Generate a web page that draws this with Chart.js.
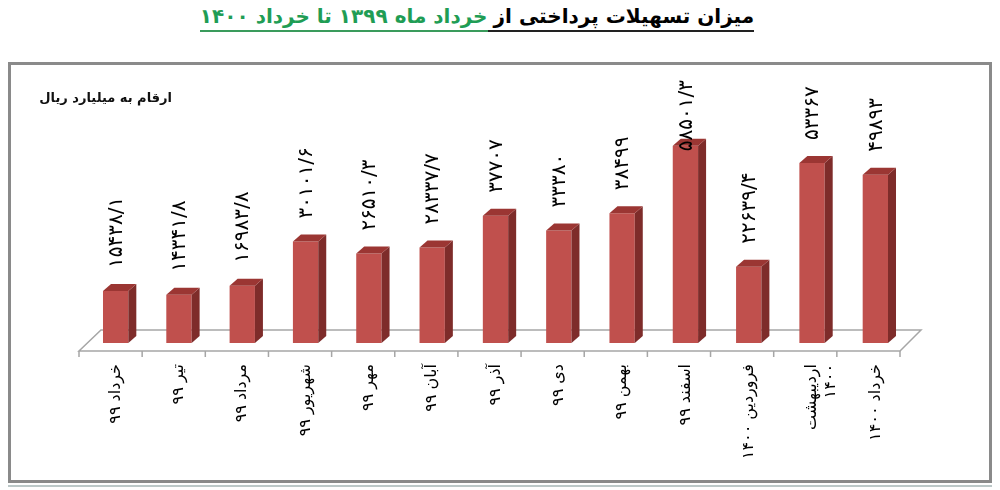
<!DOCTYPE html>
<html lang="fa">
<head>
<meta charset="utf-8">
<script src="https://cdn.jsdelivr.net/npm/chart.js@4.4.1/dist/chart.umd.min.js"></script>
<style>
  body { margin: 0; width: 1000px; height: 490px; position: relative; overflow: hidden; background: #fff; font-family: 'DejaVu Sans', sans-serif; }
  #title { position: absolute; top: 3px; left: 0; width: 954px; text-align: center; direction: rtl; font-weight: bold; font-size: 20px; line-height: 26px; white-space: nowrap; }
  #title span { display: inline-block; padding-bottom: 1px; }
  #title .k { color: #000; border-bottom: 2px solid #222; padding-left: 6px; }
  #title .g { color: #1f9d55; border-bottom: 2px solid #3a9b5c; }
  #box { position: absolute; left: 8px; top: 62px; width: 978px; height: 415px; border: 3px solid #8a8a8a; }
  #line2 { position: absolute; left: 8px; top: 485px; width: 984px; height: 2px; background: #bcc8c8; }
  #unit { position: absolute; left: 20px; top: 90px; width: 152px; text-align: right; direction: rtl; font-weight: bold; font-size: 13px; color: #111; white-space: nowrap; }
  #myChart { position: absolute; left: 12px; top: 66px; }
</style>
</head>
<body>
<div id="title"><span class="k">میزان تسهیلات پرداختی از</span><span class="g">خرداد ماه ۱۳۹۹ تا خرداد ۱۴۰۰</span></div>
<div id="box"></div>
<div id="line2"></div>
<canvas id="myChart" width="977" height="413"></canvas>
<div id="unit">ارقام به میلیارد ریال</div>
<script>
const months = ['خرداد ۹۹', 'تیر ۹۹', 'مرداد ۹۹', 'شهریور ۹۹', 'مهر ۹۹', 'آبان ۹۹', 'آذر ۹۹',
  'دی ۹۹', 'بهمن ۹۹', 'اسفند ۹۹', 'فروردین ۱۴۰۰', ['اردیبهشت', '۱۴۰۰'], 'خرداد ۱۴۰۰'];
const amounts = [15438.1, 14341.8, 16983.8, 30101.6, 26510.3, 28337.7, 37707,
  33380, 38499, 58501.3, 22639.4, 53367, 49893];

// persian digits, slash as decimal mark
function fa(v) {
  return String(v).replace(/[0-9]/g, d => '۰۱۲۳۴۵۶۷۸۹'[d]).replace('.', '/');
}

Chart.defaults.font.family = "'DejaVu Sans', sans-serif";

const dx = 8, dy = 7;

const bars3d = {
  id: 'bars3d',
  beforeDatasetsDraw(chart) {
    const { ctx, chartArea: a } = chart;
    const n = months.length;
    const fy = a.bottom + 8, fl = a.left - 5, fr = a.right - 7;
    ctx.save();
    ctx.strokeStyle = '#a6a6a6';
    ctx.lineWidth = 1.5;
    ctx.beginPath();
    ctx.moveTo(fl, fy);
    ctx.lineTo(fr, fy);
    ctx.lineTo(fr + 21, fy - 21);
    ctx.lineTo(fl + 22, fy - 21);
    ctx.closePath();
    ctx.stroke();
    ctx.beginPath();
    for (let i = 0; i <= n; i++) {
      const x = fl + (fr - fl) * i / n;
      ctx.moveTo(x, fy);
      ctx.lineTo(x, fy + 6);
    }
    ctx.stroke();
    ctx.restore();
  },
  afterDatasetsDraw(chart) {
    const { ctx } = chart;
    const meta = chart.getDatasetMeta(0);
    ctx.save();
    meta.data.forEach((bar, i) => {
      const { x, y, base, width } = bar.getProps(['x', 'y', 'base', 'width'], true);
      const l = x - width / 2, r = x + width / 2;
      // side
      ctx.fillStyle = '#7e2c2a';
      ctx.beginPath();
      ctx.moveTo(r, y); ctx.lineTo(r + dx, y - dy); ctx.lineTo(r + dx, base - dy); ctx.lineTo(r, base);
      ctx.closePath(); ctx.fill();
      // top
      ctx.fillStyle = '#9b3633';
      ctx.beginPath();
      ctx.moveTo(l, y); ctx.lineTo(l + dx, y - dy); ctx.lineTo(r + dx, y - dy); ctx.lineTo(r, y);
      ctx.closePath(); ctx.fill();
      // value label, rotated
      const t = fa(amounts[i]);
      ctx.font = "20px 'DejaVu Sans'";
      ctx.letterSpacing = '1.5px';
      const w = ctx.measureText(t).width;
      let yb = y - dy - 16;
      if (yb - w < 14) yb = 14 + w;
      ctx.save();
      ctx.translate(x + 1, yb);
      ctx.rotate(-Math.PI / 2);
      ctx.fillStyle = '#000';
      ctx.textAlign = 'left';
      ctx.textBaseline = 'middle';
      ctx.fillText(t, 0, 0);
      ctx.restore();
    });
    ctx.restore();
  }
};

new Chart(document.getElementById('myChart'), {
  type: 'bar',
  data: {
    labels: months,
    datasets: [{
      data: amounts,
      backgroundColor: '#c0504d',
      borderWidth: 0,
      categoryPercentage: 1,
      barPercentage: 0.4
    }]
  },
  options: {
    responsive: false,
    animation: false,
    layout: { padding: { left: 72, right: 82, top: 41, bottom: 0 } },
    scales: {
      x: {
        grid: { display: false },
        border: { display: false },
        ticks: { color: '#000', font: { size: 16 }, padding: 13, autoSkip: false, minRotation: 90, maxRotation: 90 },
        afterFit: s => { s.height = 136; }
      },
      y: { display: false, min: 0, max: 70000 }
    },
    plugins: {
      legend: { display: false },
      tooltip: { enabled: false }
    }
  },
  plugins: [bars3d]
});
</script>
</body>
</html>
